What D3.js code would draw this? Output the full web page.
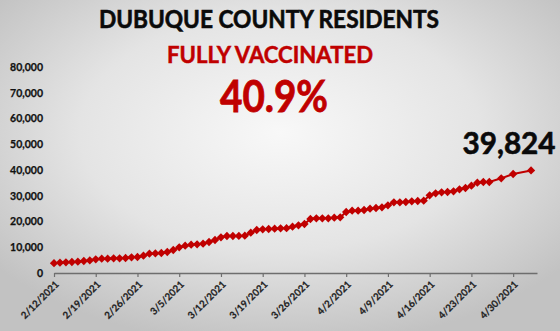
<!DOCTYPE html>
<html>
<head>
<meta charset="utf-8">
<script src="https://cdn.jsdelivr.net/npm/d3@7"></script>
<style>
  html, body { margin: 0; padding: 0; }
  body { width: 560px; height: 331px; overflow: hidden; }
  text { font-family: Lato, "Open Sans", sans-serif; }
</style>
</head>
<body>
<div id="container"></div>
<script>
/* CONSTANTS AND GLOBALS */
const width = 560,
  height = 331,
  margin = { top: 67, bottom: 58, left: 54, right: 23 };

/* DATA */
const dates = [
  "2/12/2021", "2/13/2021", "2/14/2021", "2/15/2021", "2/16/2021", "2/17/2021", "2/18/2021",
  "2/19/2021", "2/20/2021", "2/21/2021", "2/22/2021", "2/23/2021", "2/24/2021", "2/25/2021",
  "2/26/2021", "2/27/2021", "2/28/2021", "3/1/2021", "3/2/2021", "3/3/2021", "3/4/2021",
  "3/5/2021", "3/6/2021", "3/7/2021", "3/8/2021", "3/9/2021", "3/10/2021", "3/11/2021",
  "3/12/2021", "3/13/2021", "3/14/2021", "3/15/2021", "3/16/2021", "3/17/2021", "3/18/2021",
  "3/19/2021", "3/20/2021", "3/21/2021", "3/22/2021", "3/23/2021", "3/24/2021", "3/25/2021",
  "3/26/2021", "3/27/2021", "3/28/2021", "3/29/2021", "3/30/2021", "3/31/2021", "4/1/2021",
  "4/2/2021", "4/3/2021", "4/4/2021", "4/5/2021", "4/6/2021", "4/7/2021", "4/8/2021",
  "4/9/2021", "4/10/2021", "4/11/2021", "4/12/2021", "4/13/2021", "4/14/2021", "4/15/2021",
  "4/16/2021", "4/17/2021", "4/18/2021", "4/19/2021", "4/20/2021", "4/21/2021", "4/22/2021",
  "4/23/2021", "4/24/2021", "4/25/2021", "4/26/2021", "4/28/2021", "4/30/2021", "5/3/2021"
];

const vaccinated = [
  3800, 4000, 4150, 4270, 4400, 4650, 4900,
  5300, 5550, 5570, 5700, 5710, 5820, 6100,
  6210, 6720, 7490, 7620, 7770, 8150, 8930,
  9970, 10600, 10990, 11140, 11380, 12040, 12810,
  13860, 14370, 14380, 14390, 14480, 15650, 16700,
  16970, 17090, 17200, 17360, 17400, 17980, 18500,
  19030, 20970, 21240, 21240, 21250, 21500, 21630,
  23690, 24190, 24200, 24460, 24970, 25240, 25510,
  26290, 27450, 27460, 27570, 27840, 27960, 28070,
  30170, 30950, 31340, 31450, 31720, 32500, 33010,
  33900, 35060, 35340, 35350, 36770, 38440, 39824
];

const yTicks = [0, 10000, 20000, 30000, 40000, 50000, 60000, 70000, 80000];
const xTickLabels = [
  "2/12/2021", "2/19/2021", "2/26/2021", "3/5/2021", "3/12/2021", "3/19/2021",
  "3/26/2021", "4/2/2021", "4/9/2021", "4/16/2021", "4/23/2021", "4/30/2021"
];
const axisEnd = "5/4/2021";

const title = "DUBUQUE COUNTY RESIDENTS";
const subtitle = "FULLY VACCINATED";
const percent = "40.9%";
const latest = "39,824";

const parse = d3.timeParse("%m/%d/%Y");
const data = dates.map((d, i) => ({ date: parse(d), value: vaccinated[i] }));

const red = "#c00000";

/* SVG */
const svg = d3.select("#container")
  .append("svg")
  .attr("width", width)
  .attr("height", height);

/* background: soft grey radial glow like the slide */
const defs = svg.append("defs");
const grad = defs.append("radialGradient")
  .attr("id", "bg")
  .attr("cx", "50%").attr("cy", "40%").attr("r", "65%");
grad.append("stop").attr("offset", "0%").attr("stop-color", "#f8f8f8");
grad.append("stop").attr("offset", "55%").attr("stop-color", "#e4e4e4");
grad.append("stop").attr("offset", "100%").attr("stop-color", "#c2c2c2");

svg.append("rect")
  .attr("width", width)
  .attr("height", height)
  .attr("fill", "url(#bg)");

/* SCALES */
const xScale = d3.scaleTime()
  .domain([parse(dates[0]), parse(axisEnd)])
  .range([margin.left, width - margin.right]);

const yScale = d3.scaleLinear()
  .domain([0, 80000])
  .range([height - margin.bottom, margin.top]);

/* AXES */
const yAxis = d3.axisLeft(yScale)
  .tickValues(yTicks)
  .tickSize(0)
  .tickPadding(0)
  .tickFormat(d3.format(","));

svg.append("g")
  .attr("transform", `translate(${margin.left - 11}, 0)`)
  .call(yAxis)
  .call(g => g.select(".domain").remove())
  .call(g => g.selectAll("text")
    .style("font-family", "Lato, sans-serif")
    .style("font-weight", "700")
    .style("font-size", "10.5px")
    .attr("fill", "#111")
    .attr("stroke", "#111").attr("stroke-width", 0.25));

const xAxis = d3.axisBottom(xScale)
  .tickValues(xTickLabels.map(parse))
  .tickSize(4)
  .tickSizeOuter(0)
  .tickFormat(d3.timeFormat("%-m/%-d/%Y"));

svg.append("g")
  .attr("transform", `translate(0, ${height - margin.bottom})`)
  .call(xAxis)
  .call(g => g.select(".domain").attr("stroke", "#6e6e6e").attr("stroke-width", 1.5))
  .call(g => g.selectAll(".tick line").attr("stroke", "#6e6e6e").attr("stroke-width", 1.2))
  .call(g => g.selectAll("text")
    .style("font-family", "Lato, sans-serif")
    .style("font-weight", "700")
    .style("font-size", "9.8px")
    .attr("fill", "#222")
    .attr("stroke", "#222").attr("stroke-width", 0.2)
    .style("text-anchor", "end")
    .attr("dx", "0")
    .attr("dy", "0")
    .attr("y", 0)
    .attr("transform", "translate(5, 12) rotate(-45)"));

/* LINE + MARKERS */
const line = d3.line()
  .x(d => xScale(d.date))
  .y(d => yScale(d.value));

svg.append("path")
  .datum(data)
  .attr("d", line)
  .attr("fill", "none")
  .attr("stroke", red)
  .attr("stroke-width", 2);

svg.selectAll(".marker")
  .data(data)
  .join("path")
  .attr("class", "marker")
  .attr("transform", d => `translate(${xScale(d.date)}, ${yScale(d.value)})`)
  .attr("d", d3.symbol(d3.symbolDiamond2, 44))
  .attr("fill", red);

/* TITLES */
svg.append("text")
  .attr("x", 269).attr("y", 28)
  .attr("text-anchor", "middle")
  .attr("textLength", 340).attr("lengthAdjust", "spacingAndGlyphs")
  .style("font-weight", "700").style("font-size", "24px")
  .attr("fill", "#0a0a0a")
  .attr("stroke", "#0a0a0a").attr("stroke-width", 0.6)
  .text(title);

svg.append("text")
  .attr("x", 270).attr("y", 63)
  .attr("text-anchor", "middle")
  .attr("textLength", 206).attr("lengthAdjust", "spacingAndGlyphs")
  .style("font-weight", "700").style("font-size", "22px")
  .attr("fill", red)
  .attr("stroke", red).attr("stroke-width", 0.5)
  .text(subtitle);

svg.append("text")
  .attr("x", 274).attr("y", 112)
  .attr("text-anchor", "middle")
  .attr("textLength", 108).attr("lengthAdjust", "spacingAndGlyphs")
  .style("font-weight", "700").style("font-size", "44px")
  .attr("fill", red)
  .attr("stroke", red).attr("stroke-width", 0.8)
  .text(percent);

/* latest value label */
const last = data[data.length - 1];
svg.append("text")
  .attr("x", xScale(last.date) - 22).attr("y", yScale(last.value) - 16)
  .attr("text-anchor", "middle")
  .attr("textLength", 93).attr("lengthAdjust", "spacingAndGlyphs")
  .style("font-weight", "700").style("font-size", "30px")
  .attr("fill", "#0a0a0a")
  .attr("stroke", "#0a0a0a").attr("stroke-width", 0.6)
  .text(latest);
</script>
</body>
</html>
